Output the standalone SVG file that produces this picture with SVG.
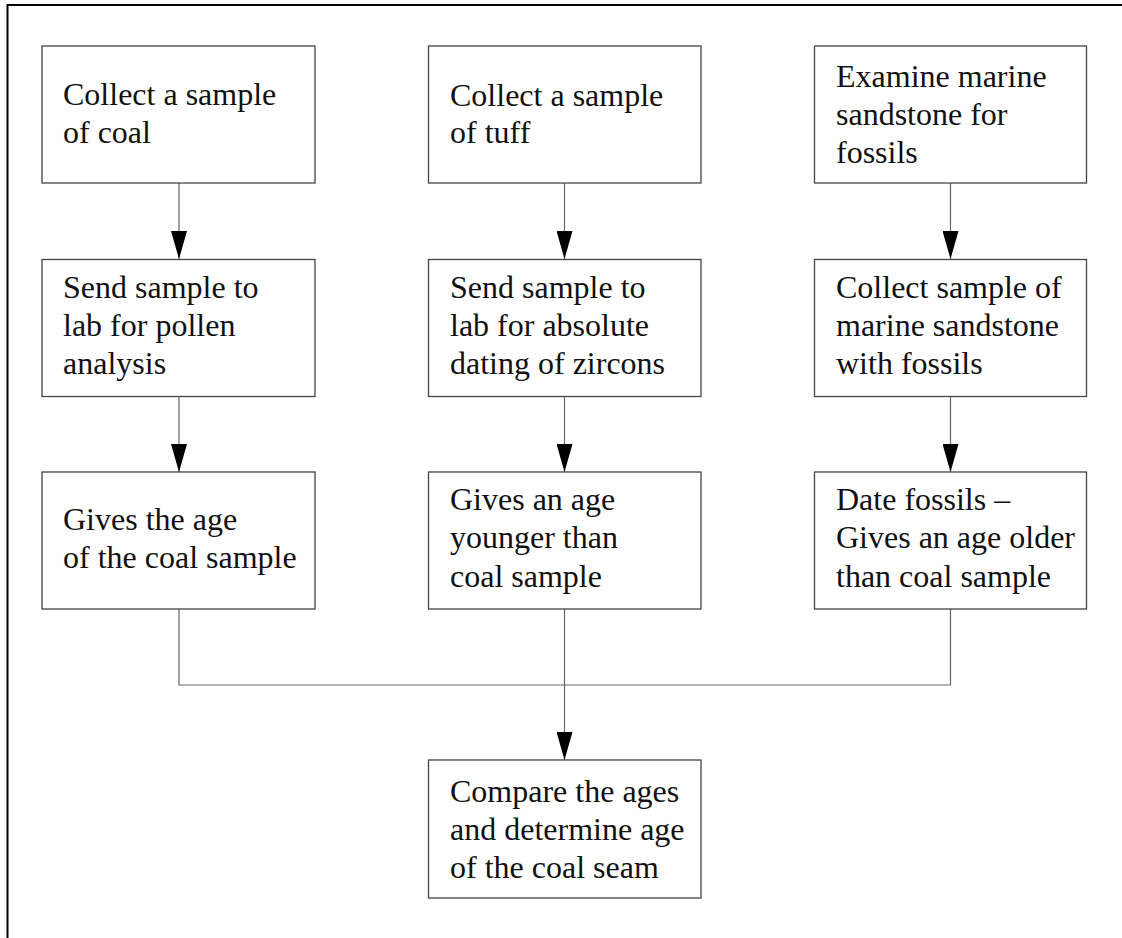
<svg xmlns="http://www.w3.org/2000/svg" width="1122" height="938" viewBox="0 0 1122 938">
<style>
.box{fill:#fff;stroke:#444;stroke-width:1.3}
.t{font-family:"Liberation Serif","Times New Roman",serif;font-size:32px;fill:#111}
.c{fill:none;stroke:#666;stroke-width:1.2}
.frame{fill:none;stroke:#000;stroke-width:2}
</style>
<defs>
<marker id="ah" markerUnits="userSpaceOnUse" markerWidth="28" markerHeight="16" refX="28" refY="8" viewBox="0 0 28 16" orient="auto">
<path d="M0,0 L28,8 L0,16 Z" fill="#000"/>
</marker>
</defs>
<rect width="1122" height="938" fill="#fff"/>
<path class="frame" d="M7.5,938 V5 H1122"/>
<g id="connectors">
<line class="c" x1="179" y1="183" x2="179" y2="259" marker-end="url(#ah)"/>
<line class="c" x1="564.5" y1="183" x2="564.5" y2="259" marker-end="url(#ah)"/>
<line class="c" x1="950.5" y1="183" x2="950.5" y2="259" marker-end="url(#ah)"/>
<line class="c" x1="179" y1="397" x2="179" y2="472" marker-end="url(#ah)"/>
<line class="c" x1="564.5" y1="397" x2="564.5" y2="472" marker-end="url(#ah)"/>
<line class="c" x1="950.5" y1="397" x2="950.5" y2="472" marker-end="url(#ah)"/>
<path class="c" d="M179,609 V685 H950.5 V609"/>
<line class="c" x1="564.5" y1="609" x2="564.5" y2="760" marker-end="url(#ah)"/>
</g>
<g id="n1"><rect class="box" x="42" y="46" width="273" height="137"/>
<text class="t" x="63" y="105">Collect a sample</text><text class="t" x="63" y="143">of coal</text></g>
<g id="n2"><rect class="box" x="428.5" y="46" width="272.5" height="137"/>
<text class="t" x="450" y="106">Collect a sample</text><text class="t" x="450" y="143">of tuff</text></g>
<g id="n3"><rect class="box" x="814.5" y="46" width="272" height="137"/>
<text class="t" x="836" y="87">Examine marine</text><text class="t" x="836" y="125">sandstone for</text><text class="t" x="836" y="163">fossils</text></g>
<g id="n4"><rect class="box" x="42" y="259.5" width="273" height="137"/>
<text class="t" x="63" y="298">Send sample to</text><text class="t" x="63" y="336">lab for pollen</text><text class="t" x="63" y="374">analysis</text></g>
<g id="n5"><rect class="box" x="428.5" y="259.5" width="272.5" height="137"/>
<text class="t" x="450" y="298">Send sample to</text><text class="t" x="450" y="336">lab for absolute</text><text class="t" x="450" y="374">dating of zircons</text></g>
<g id="n6"><rect class="box" x="814.5" y="259.5" width="272" height="137"/>
<text class="t" x="836" y="298">Collect sample of</text><text class="t" x="836" y="336">marine sandstone</text><text class="t" x="836" y="374">with fossils</text></g>
<g id="n7"><rect class="box" x="42" y="472" width="273" height="137"/>
<text class="t" x="63" y="530">Gives the age</text><text class="t" x="63" y="568">of the coal sample</text></g>
<g id="n8"><rect class="box" x="428.5" y="472" width="272.5" height="137"/>
<text class="t" x="450" y="510">Gives an age</text><text class="t" x="450" y="548">younger than</text><text class="t" x="450" y="587">coal sample</text></g>
<g id="n9"><rect class="box" x="814.5" y="472" width="272" height="137"/>
<text class="t" x="836" y="510">Date fossils –</text><text class="t" x="836" y="548">Gives an age older</text><text class="t" x="836" y="587">than coal sample</text></g>
<g id="n10"><rect class="box" x="428.5" y="760" width="272.5" height="138"/>
<text class="t" x="450" y="802">Compare the ages</text><text class="t" x="450" y="840">and determine age</text><text class="t" x="450" y="878">of the coal seam</text></g>
</svg>
